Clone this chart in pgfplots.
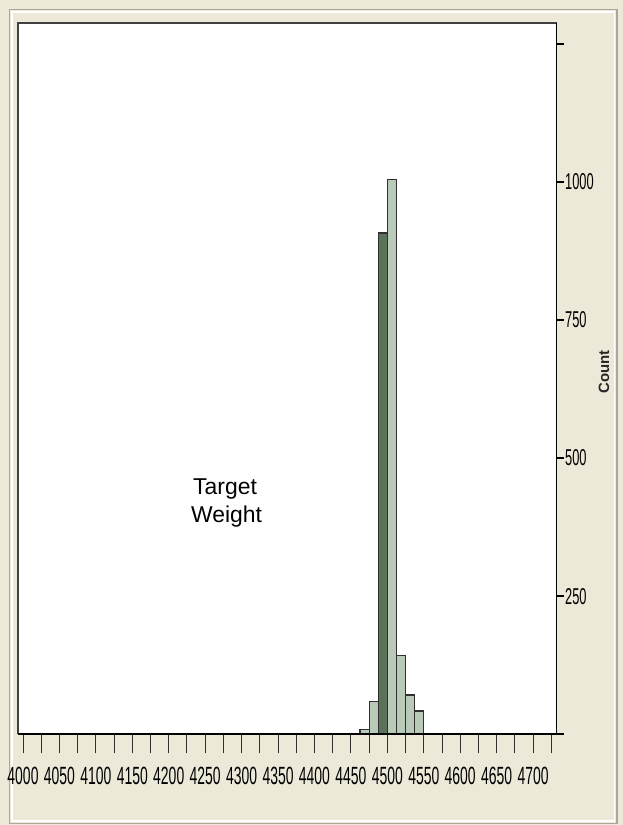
\documentclass[border=0pt]{standalone}
\usepackage{pgfplots}
\pgfplotsset{compat=1.18}
\usepackage{fontspec}
\setmainfont{Liberation Sans}
\newfontfamily\narrowfont[FakeStretch=0.56]{Liberation Sans}
\definecolor{bg}{HTML}{ECE9D8}
\definecolor{framegrey}{HTML}{ACA899}
\definecolor{darkbar}{HTML}{5A7358}
\definecolor{lightbar}{HTML}{B9CAB9}
\definecolor{edge}{HTML}{303030}
\pgfplotsset{
  basebox/.style={
    at={(18.3bp,90.7bp)}, anchor=south west,
    scale only axis, width=538.2bp, height=711bp,
    xmin=3993.55, xmax=4732.1, ymin=0, ymax=1286.6,
    axis line style={draw=none},
    tick align=outside,
    clip=false,
  }
}
\begin{document}
\begin{tikzpicture}[x=1bp,y=1bp]
\useasboundingbox (0,0) rectangle (623,825);
\fill[bg] (0,0) rectangle (623,825);
\draw[framegrey, line width=1.5bp] (9.5,1.5) rectangle (617,815.5);
\draw[white, line width=1.2bp] (12,4) rectangle (614.5,813);
% main axis: bars and x ticks
\begin{axis}[
  basebox,
  axis background/.style={fill=white},
  major tick length=19bp, minor tick length=19bp,
  xtick={4000,4050,4100,4150,4200,4250,4300,4350,4400,4450,4500,4550,4600,4650,4700},
  xticklabels={4000,4050,4100,4150,4200,4250,4300,4350,4400,4450,4500,4550,4600,4650,4700},
  minor xtick={4025,4075,4125,4175,4225,4275,4325,4375,4425,4475,4525,4575,4625,4675,4725},
  xtick pos=bottom,
  x tick style={draw=edge, line width=1bp},
  xticklabel style={font=\narrowfont\fontsize{25}{25}\selectfont, text=black, inner sep=1bp, anchor=north, yshift=-13bp},
  ytick=\empty,
]
\addplot[ybar interval, fill=lightbar, draw=edge, line width=1.2bp] coordinates {(4462.5,9) (4475,59) (4487.5,59)};
\addplot[ybar interval, fill=darkbar, draw=edge, line width=1.2bp] coordinates {(4487.5,907) (4500,907)};
\addplot[ybar interval, fill=lightbar, draw=edge, line width=1.2bp] coordinates {(4500,1004) (4512.5,143) (4525,71) (4537.5,42) (4550,42)};
\end{axis}
% second axis: y ticks on the right
\begin{axis}[
  basebox,
  major tick length=7.5bp,
  xtick=\empty,
  ytick={250,500,750,1000,1250},
  yticklabels={250,500,750,1000,{}},
  ytick pos=right, yticklabel pos=right,
  y tick style={draw=black, line width=2bp},
  yticklabel style={font=\narrowfont\fontsize{23}{23}\selectfont, text=black, inner sep=1bp, anchor=west},
]
\end{axis}
% frame of the plot box
\draw[line width=2bp, draw=black!75] (18.3,90.7) -- (18.3,801.7) -- (556.5,801.7);
\draw[line width=1.6bp, draw=black] (18.3,90.7) -- (564,90.7);
\draw[line width=1.6bp, draw=black] (556.5,90.7) -- (556.5,801.7);
\node[rotate=90, font=\bfseries\fontsize{15}{15}\selectfont, text=black!85] at (604,453) {Count};
\node[anchor=base west, font=\fontsize{23}{23}\selectfont, inner sep=0pt] at (193,330) {Target};
\node[anchor=base west, font=\fontsize{23}{23}\selectfont, inner sep=0pt] at (191,302) {Weight};
\end{tikzpicture}
\end{document}
